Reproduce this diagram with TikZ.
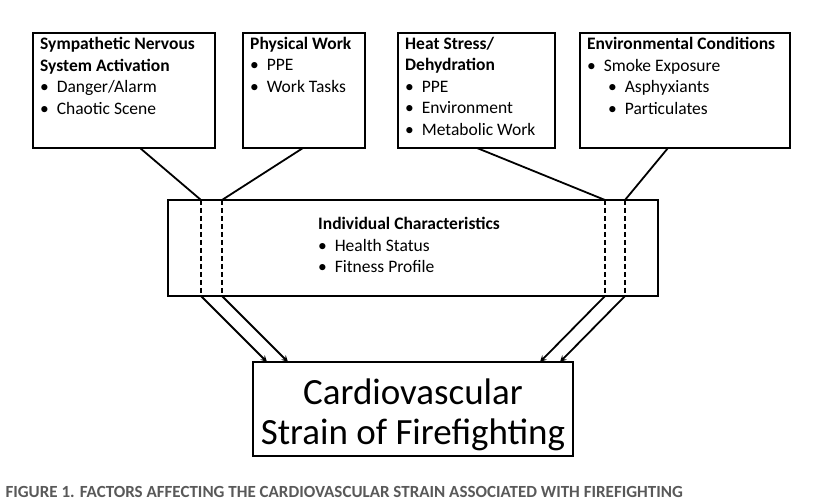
\documentclass[tikz,border=0pt]{standalone}
\usepackage{fontspec}
\setmainfont{Carlito}
\usetikzlibrary{positioning}
\tikzset{
  factor/.style={anchor=north west, align=left, inner sep=6pt, font=\fontsize{17.5}{21.5}\selectfont},
  frame/.style={line width=1.8pt},
  link/.style={line width=1.8pt},
  feed/.style={line width=1.6pt, dash pattern=on 5pt off 3pt},
  push/.style={line width=1.8pt, ->, >=stealth}
}
\begin{document}
\begin{tikzpicture}[x=1pt,y=-1pt]
        \useasboundingbox (0,0) rectangle (827,502);
        % Factor boxes
        \draw [frame] (33,33) rectangle (215,148);
        \draw [frame] (243,33) rectangle (365,148);
        \draw [frame] (398,33) rectangle (555,148);
        \draw [frame] (580,33) rectangle (790,148);
        \node [factor] (sns) at (34,31) {\textbf{Sympathetic Nervous}\\\textbf{System Activation}\\\textbullet\ \ Danger/Alarm\\\textbullet\ \ Chaotic Scene};
        \node [factor] (work) at (244,31) {\textbf{Physical Work}\\\textbullet\ \ PPE\\\textbullet\ \ Work Tasks};
        \node [factor] (heat) at (399,31) {\textbf{Heat Stress/}\\\textbf{Dehydration}\\\textbullet\ \ PPE\\\textbullet\ \ Environment\\\textbullet\ \ Metabolic Work};
        \node [factor] (env) at (581,31) {\textbf{Environmental Conditions}\\\textbullet\ \ Smoke Exposure\\\hspace{1.2em}\textbullet\ \ Asphyxiants\\\hspace{1.2em}\textbullet\ \ Particulates};

        % Individual characteristics
        \draw [frame] (168,200) rectangle (658,296);
        \node [factor] (indiv) at (312,211)
          {\textbf{Individual Characteristics}\\\textbullet\ \ Health Status\\\textbullet\ \ Fitness Profile};

        % Outcome
        \draw [frame] (253,362) rectangle (573,456);
        \node [align=center, inner sep=0pt, font=\fontsize{37}{40}\selectfont] (strain) at (413,415)
          {Cardiovascular\\Strain of Firefighting};

        % Connector points
        \coordinate (s1) at (140,148); \coordinate (m1) at (201,200); \coordinate (n1) at (201,296);
        \coordinate (s2) at (303,148); \coordinate (m2) at (222,200); \coordinate (n2) at (222,296);
        \coordinate (s3) at (477,148); \coordinate (m3) at (605,200); \coordinate (n3) at (605,296);
        \coordinate (s4) at (668,148); \coordinate (m4) at (625,200); \coordinate (n4) at (625,296);
        \coordinate (e1) at (267,362); \coordinate (e2) at (288,362);
        \coordinate (e3) at (540,362); \coordinate (e4) at (560,362);
        \foreach \i in {1,...,4} {
          \draw [link] (s\i) -- (m\i);
          \draw [feed] (m\i) -- (n\i);
          \draw [push] (n\i) -- (e\i);
        }

        % Caption
        \node [anchor=west, text=black!65, font=\fontsize{17}{18}\selectfont\bfseries] (cap) at (2,492)
          {FIGURE 1. FACTORS AFFECTING THE CARDIOVASCULAR STRAIN ASSOCIATED WITH FIREFIGHTING};
\end{tikzpicture}
\end{document}
